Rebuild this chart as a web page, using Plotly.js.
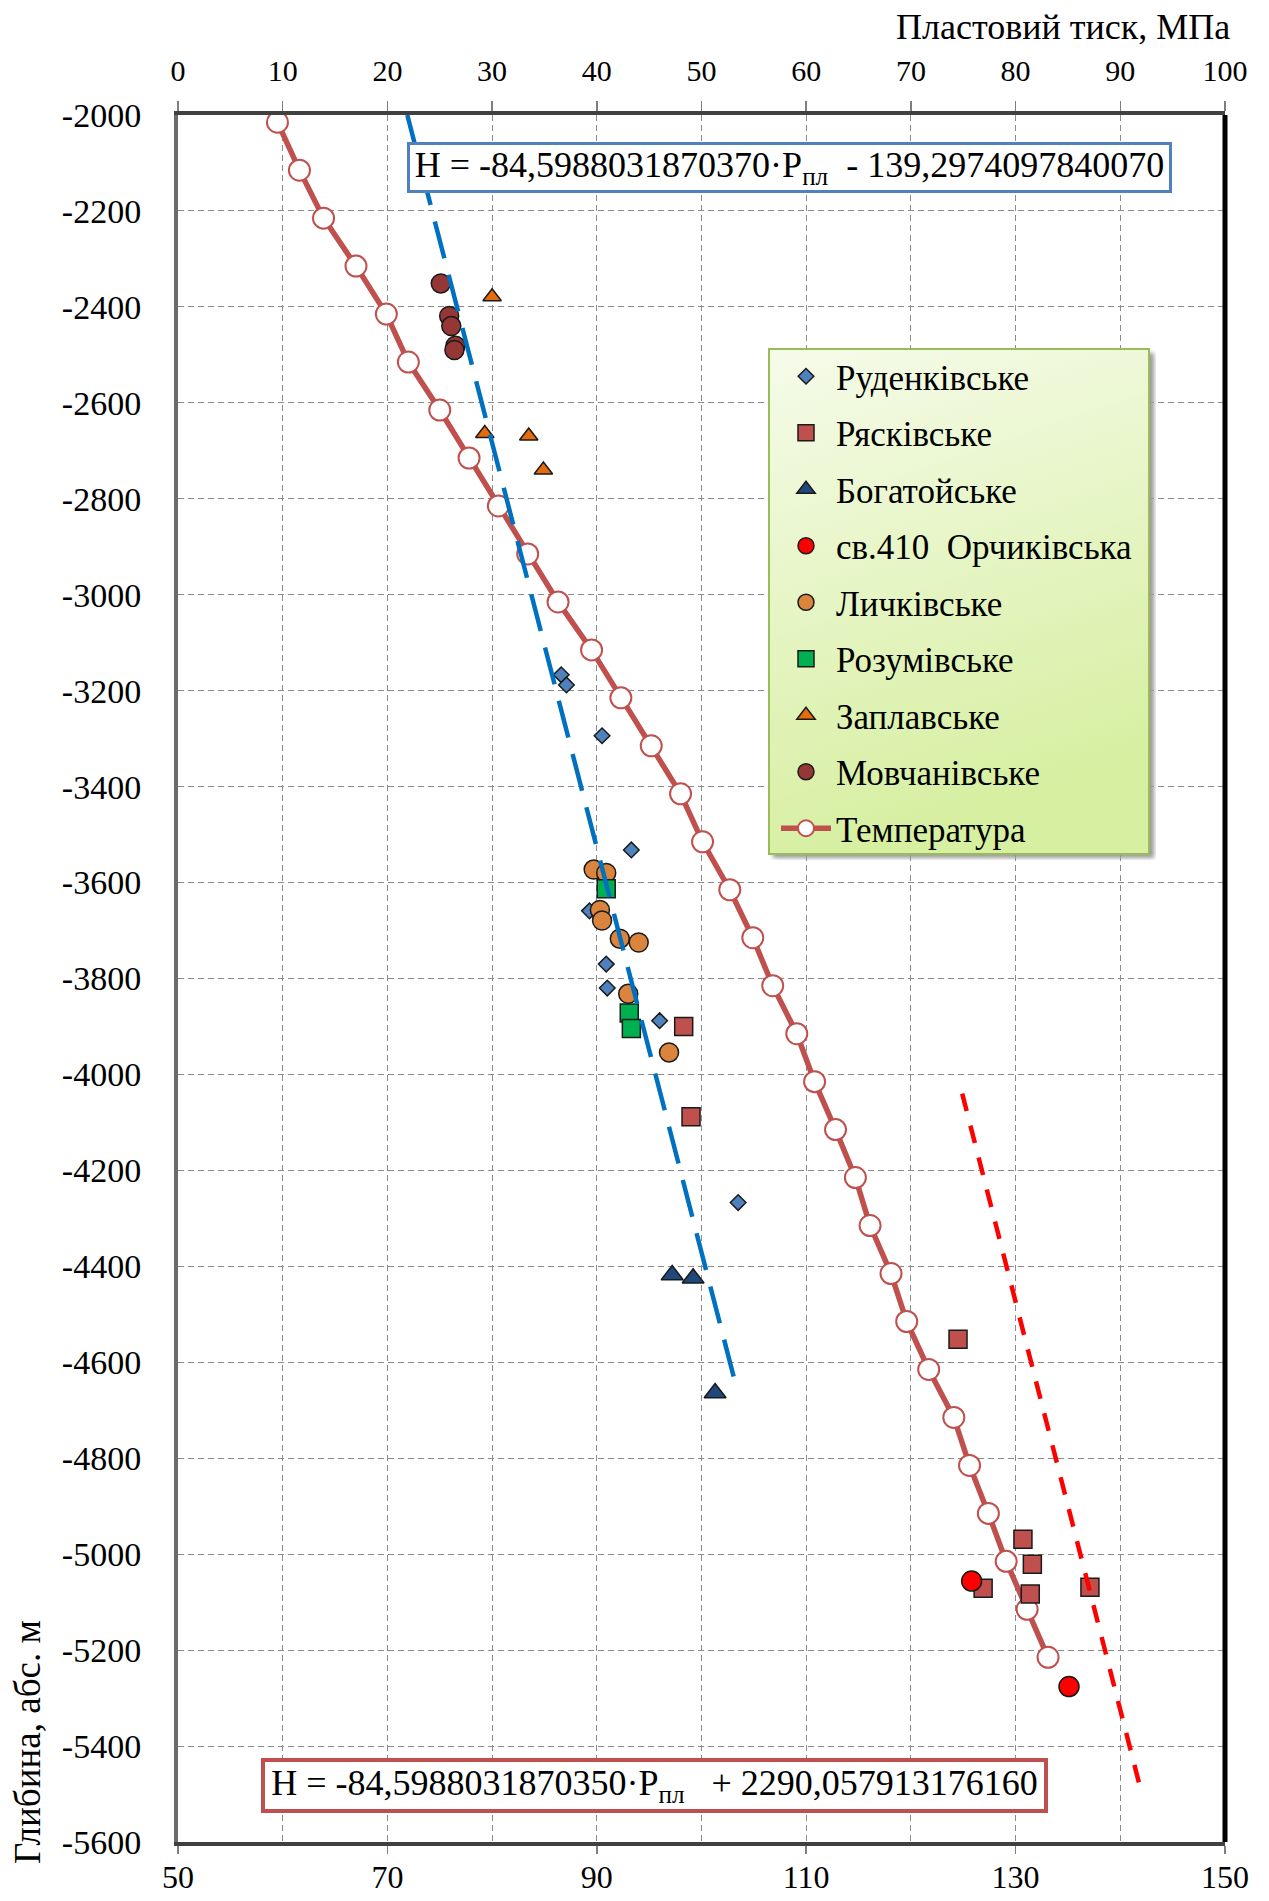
<!DOCTYPE html>
<html>
<head>
<meta charset="utf-8">
<script src="https://cdn.plot.ly/plotly-3.0.1.min.js"></script>
<style>
  html, body { margin: 0; padding: 0; background: #ffffff; }
  #chart { width: 1269px; height: 1901px; }
</style>
</head>
<body>
<div id="chart"></div>
<script>
// ---------------- data ----------------
const seriesNames = ["Руденківське", "Рясківське", "Богатойське", "св.410\u00A0 Орчиківська",
                     "Личківське", "Розумівське", "Заплавське", "Мовчанівське", "Температура"];

// pressure, MPa (top axis) and depth, m
const rudenkPressure = [36.6, 37.1, 40.5, 43.3, 39.3, 40.9, 41.0, 46.0, 53.5];
const rudenkDepth    = [-3167, -3188, -3294, -3532, -3659, -3770, -3820, -3888, -4267];

const ryaskPressure = [48.3, 49.0, 74.5, 80.7, 81.6, 76.9, 81.4, 87.1];
const ryaskDepth    = [-3900, -4088, -4552, -4969, -5021, -5071, -5083, -5069];

const bohatPressure = [47.2, 49.2, 51.3];
const bohatDepth    = [-4418, -4425, -4664];

const orchPressure = [75.8, 85.1];
const orchDepth    = [-5056, -5276];

const lychPressure = [39.7, 40.9, 40.3, 40.5, 42.2, 44.0, 43.0, 46.9];
const lychDepth    = [-3573, -3580, -3657, -3679, -3717, -3725, -3832, -3954];

const rozumPressure = [40.9, 43.1, 43.3];
const rozumDepth    = [-3613, -3872, -3904];

const zaplPressure = [30.0, 29.3, 33.5, 34.9];
const zaplDepth    = [-2379, -2664, -2669, -2740];

const movchPressure = [25.1, 25.9, 26.1, 26.5, 26.4];
const movchDepth    = [-2351, -2419, -2440, -2481, -2490];

// temperature, °C (bottom axis)
const tempDepth = [-2015, -2115, -2215, -2315, -2415, -2515, -2615, -2715, -2815, -2915,
                   -3015, -3115, -3215, -3315, -3415, -3515, -3615, -3715, -3815, -3915,
                   -4015, -4115, -4215, -4315, -4415, -4515, -4615, -4715, -4815, -4915,
                   -5015, -5115, -5215];
const tempValue = [59.5, 61.6, 63.9, 67.0, 69.9, 72.0, 75.0, 77.8, 80.6, 83.4,
                   86.3, 89.5, 92.3, 95.2, 98.0, 100.1, 102.7, 104.9, 106.8, 109.1,
                   110.8, 112.8, 114.7, 116.1, 118.1, 119.6, 121.7, 124.1, 125.6, 127.4,
                   129.1, 131.1, 133.1];

// trend lines (end points)
const trendBluePressure = [21.9, 53.25];
const trendBlueDepth    = [-2000, -4645];
const trendRedPressure  = [74.9, 92.0];
const trendRedDepth     = [-4040, -5495];

const eqTop    = "H = -84,5988031870370·P<sub>пл</sub>\u00A0 - 139,2974097840070";
const eqBottom = "H = -84,5988031870350·P<sub>пл</sub>\u00A0\u00A0 + 2290,057913176160";

const topTickVals = [0, 10, 20, 30, 40, 50, 60, 70, 80, 90, 100];
const topTickText = ["0", "10", "20", "30", "40", "50", "60", "70", "80", "90", "100"];
const bottomTickVals = [50, 70, 90, 110, 130, 150];
const bottomTickText = ["50", "70", "90", "110", "130", "150"];
const depthTickVals = [-5600, -5400, -5200, -5000, -4800, -4600, -4400, -4200, -4000, -3800,
                       -3600, -3400, -3200, -3000, -2800, -2600, -2400, -2200, -2000];
const depthTickText = ["-5600", "-5400", "-5200", "-5000", "-4800", "-4600", "-4400", "-4200", "-4000", "-3800",
                       "-3600", "-3400", "-3200", "-3000", "-2800", "-2600", "-2400", "-2200", "-2000"];

const xTitle = "Пластовий тиск, МПа";
const yTitle = "Глибина, абс. м";

// ---------------- chart ----------------
const FONT = "Liberation Serif, 'Times New Roman', serif";
const BLACK = "#000000";

function pts(name, x, y, symbol, size, fill, group) {
  return {
    type: "scatter", mode: "markers", name: name, x: x, y: y,
    xaxis: "x2", yaxis: "y", legendgroup: group,
    marker: { symbol: symbol, size: size, color: fill, line: { color: "#1a1a1a", width: 1.5 } }
  };
}

const traces = [
  pts(seriesNames[0], rudenkPressure, rudenkDepth, "diamond", 12, "#4F81BD", "g0"),
  pts(seriesNames[1], ryaskPressure, ryaskDepth, "square", 18, "#C0504D", "g1"),
  pts(seriesNames[2], bohatPressure, bohatDepth, "triangle-up", 19, "#1F497D", "g2"),
  pts(seriesNames[4], lychPressure, lychDepth, "circle", 19, "#DB843D", "g4"),
  pts(seriesNames[5], rozumPressure, rozumDepth, "square", 18, "#00B050", "g5"),
  pts(seriesNames[6], zaplPressure, zaplDepth, "triangle-up", 16, "#E46C0A", "g6"),
  pts(seriesNames[7], movchPressure, movchDepth, "circle", 19, "#953735", "g7"),
  {
    type: "scatter", mode: "lines", x: trendBluePressure, y: trendBlueDepth,
    xaxis: "x2", yaxis: "y", showlegend: false,
    line: { color: "#0070C0", width: 4.5, dash: "38px,17px" }
  },
  {
    type: "scatter", mode: "lines", x: trendRedPressure, y: trendRedDepth,
    xaxis: "x2", yaxis: "y", showlegend: false,
    line: { color: "#FF0000", width: 4.5, dash: "18px,15px" }
  },
  {
    type: "scatter", mode: "lines+markers", name: seriesNames[8],
    x: tempValue, y: tempDepth, xaxis: "x", yaxis: "y", legendgroup: "g8",
    line: { color: "#C0504D", width: 5.5 },
    marker: { symbol: "circle", size: 21, color: "#FFFFFF", line: { color: "#C0504D", width: 2 } }
  },
  pts(seriesNames[3], orchPressure, orchDepth, "circle", 20, "#FF0000", "g3")
];

// legend order (ranks)
const order = { g0: 1, g1: 2, g2: 3, g3: 4, g4: 5, g5: 6, g6: 7, g7: 8, g8: 9 };
traces.forEach(t => { if (t.legendgroup) t.legendrank = order[t.legendgroup]; });

const L = 178, R = 1225, T = 115, B = 1842;
const W = R - L, H = B - T;
const px = v => (v - L) / W;
const py = v => (B - v) / H;

const legSvg =
  '<svg xmlns="http://www.w3.org/2000/svg" width="388" height="512" viewBox="0 0 388 512" preserveAspectRatio="none">' +
  '<defs><linearGradient id="g" x1="0" y1="0" x2="0.25" y2="1">' +
  '<stop offset="0" stop-color="#F6FBEA"/><stop offset="1" stop-color="#D6EFA0"/></linearGradient>' +
  '<filter id="b"><feGaussianBlur stdDeviation="2"/></filter></defs>' +
  '<rect x="5" y="5" width="381" height="505" fill="#9a9a9a" filter="url(#b)"/>' +
  '<rect x="1" y="1" width="380" height="505" fill="url(#g)" stroke="#9BBB59" stroke-width="2"/>' +
  '</svg>';
const legSrc = "data:image/svg+xml;charset=utf-8," + encodeURIComponent(legSvg);

const layout = {
  width: 1269, height: 1901,
  margin: { l: L, r: 1269 - R, t: T, b: 1901 - B, pad: 0 },
  paper_bgcolor: "#FFFFFF", plot_bgcolor: "#FFFFFF",
  font: { family: FONT, color: BLACK, size: 32 },
  showlegend: true,
  xaxis: {
    range: [50, 150], tickmode: "array", tickvals: bottomTickVals, ticktext: bottomTickText, side: "bottom",
    showgrid: false, zeroline: false,
    ticks: "outside", ticklen: 8, tickwidth: 1.5, tickcolor: "#7f7f7f",
    showline: true, linecolor: "#404040", linewidth: 4,
    tickfont: { family: FONT, size: 32, color: BLACK }, ticklabelstandoff: -4
  },
  xaxis2: {
    range: [0, 100], tickmode: "array", tickvals: topTickVals, ticktext: topTickText, side: "top", overlaying: "x",
    showgrid: true, gridcolor: "#8c8c8c", gridwidth: 1, griddash: "6px,4px",
    zeroline: false,
    ticks: "outside", ticklen: 10, tickwidth: 1.5, tickcolor: "#7f7f7f",
    showline: true, linecolor: "#404040", linewidth: 4,
    tickfont: { family: FONT, size: 30, color: BLACK }, ticklabelstandoff: 8
  },
  yaxis: {
    range: [-5600, -2000], tickmode: "array", tickvals: depthTickVals, ticktext: depthTickText,
    showgrid: true, gridcolor: "#8c8c8c", gridwidth: 1, griddash: "6px,4px",
    zeroline: false, ticks: "", showline: true, linecolor: "#6b6b6b", linewidth: 4,
    tickfont: { family: FONT, size: 34, color: BLACK }, ticklabelstandoff: 26
  },
  legend: {
    x: px(776), y: py(347), xanchor: "left", yanchor: "top",
    bgcolor: "rgba(0,0,0,0)", borderwidth: 0,
    font: { family: FONT, size: 35, color: BLACK },
    itemwidth: 50, tracegroupgap: 8, traceorder: "grouped"
  },
  images: [{
    source: legSrc, xref: "paper", yref: "paper",
    x: px(768), y: py(348), sizex: 388 / W, sizey: 512 / H,
    xanchor: "left", yanchor: "top", sizing: "stretch", layer: "above"
  }],
  shapes: [{
    type: "line", xref: "paper", yref: "paper", x0: 1, x1: 1, y0: 0, y1: 1,
    line: { color: "#000000", width: 5 }
  }],
  annotations: [
    {
      text: eqTop, xref: "paper", yref: "paper",
      x: px(789.5), y: py(167.5), xanchor: "center", yanchor: "middle",
      showarrow: false, bgcolor: "#FFFFFF", bordercolor: "#4F81BD", borderwidth: 3,
      borderpad: 0, width: 759, height: 45,
      font: { family: FONT, size: 36, color: BLACK }
    },
    {
      text: eqBottom, xref: "paper", yref: "paper",
      x: px(654.5), y: py(1785.5), xanchor: "center", yanchor: "middle",
      showarrow: false, bgcolor: "#FFFFFF", bordercolor: "#C0504D", borderwidth: 4,
      borderpad: 0, width: 779, height: 47,
      font: { family: FONT, size: 36, color: BLACK }
    },
    {
      text: xTitle, xref: "paper", yref: "paper",
      x: px(1232), y: py(27), xanchor: "right", yanchor: "middle",
      showarrow: false, font: { family: FONT, size: 36, color: BLACK }
    },
    {
      text: yTitle, xref: "paper", yref: "paper", textangle: -90,
      x: px(27), y: py(1742), xanchor: "center", yanchor: "middle",
      showarrow: false, font: { family: FONT, size: 37, color: BLACK }
    }
  ]
};

Plotly.newPlot("chart", traces, layout, { staticPlot: true, displayModeBar: false });
</script>
</body>
</html>
